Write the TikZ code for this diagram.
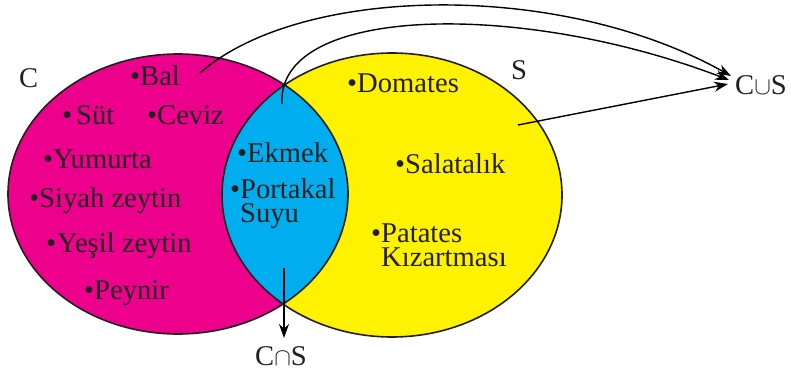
\documentclass[tikz,border=0pt]{standalone}
\usepackage{fontspec}
\setmainfont{Liberation Serif}
\usetikzlibrary{arrows.meta}
\definecolor{magentaC}{RGB}{236,0,140}
\definecolor{yellowS}{RGB}{255,242,0}
\definecolor{cyanI}{RGB}{0,174,239}
\definecolor{ink}{RGB}{35,31,32}
\begin{document}
\begin{tikzpicture}[x=1pt,y=-1pt,
  lbl/.style={anchor=base west,inner sep=0pt,font=\fontsize{28.6}{24}\selectfont,text=ink,align=left},
  arr/.style={line width=1.4pt,draw=black,-{Stealth[length=14pt,width=10pt]}},
  outline/.style={line width=1.6pt,draw=ink}]
\useasboundingbox (0,0) rectangle (791,374);
% sets
\fill[magentaC] (178,194) ellipse [x radius=170, y radius=140];
\fill[yellowS] (392,195) ellipse [x radius=170, y radius=142];
\begin{scope}
  \clip (178,194) ellipse [x radius=170, y radius=140];
  \fill[cyanI] (392,195) ellipse [x radius=170, y radius=142];
\end{scope}
\draw[outline] (178,194) ellipse [x radius=170, y radius=140];
\draw[outline] (392,195) ellipse [x radius=170, y radius=142];
% set labels
\node[lbl] (cC) at (19,88) {C};
\node[lbl] (sS) at (511,80) {S};
% elements of C
\node[lbl] (bal) at (130,86) {\textbullet Bal};
\node[lbl] (sut) at (62,125) {\textbullet\kern4pt Süt};
\node[lbl] (ceviz) at (147,125) {\textbullet Ceviz};
\node[lbl] (yumurta) at (43,168) {\textbullet Yumurta};
\node[lbl] (siyah) at (29,207) {\textbullet Siyah zeytin};
\node[lbl] (yesil) at (46,252) {\textbullet\kern1pt Yeşil zeytin};
\node[lbl] (peynir) at (84,299) {\textbullet Peynir};
% elements of the intersection (base anchor = last line)
\node[lbl] (ekmek) at (237,163) {\textbullet Ekmek};
\node[lbl] (portakal) at (230,222) {\textbullet Portakal\\\phantom{\textbullet}Suyu};
% elements of S
\node[lbl] (domates) at (347,93) {\textbullet Domates};
\node[lbl] (salatalik) at (395,173) {\textbullet Salatalık};
\node[lbl] (patates) at (371,266) {\textbullet Patates\\\phantom{\textbullet}Kızartması};
% result labels
\node[lbl] (cus) at (735,95) {C$\cup$S};
\node[lbl] (cns) at (255,365) {C$\cap$S};
% connector ends
\coordinate (a1) at (200,73);
\coordinate (a2) at (282,104);
\coordinate (a3) at (518,125);
\coordinate (a4) at (284,268);
\coordinate (t1) at (731,76);
\coordinate (t2) at (729,80);
\coordinate (t3) at (728,84);
\coordinate (t4) at (284,338);
% connectors
\draw[arr] (a1) .. controls (300,-15) and (560,-20) .. (t1);
\draw[arr] (a2) .. controls (276,5) and (520,0) .. (t2);
\draw[arr] (a3) -- (t3);
\draw[arr] (a4) -- (t4);
\end{tikzpicture}
\end{document}
